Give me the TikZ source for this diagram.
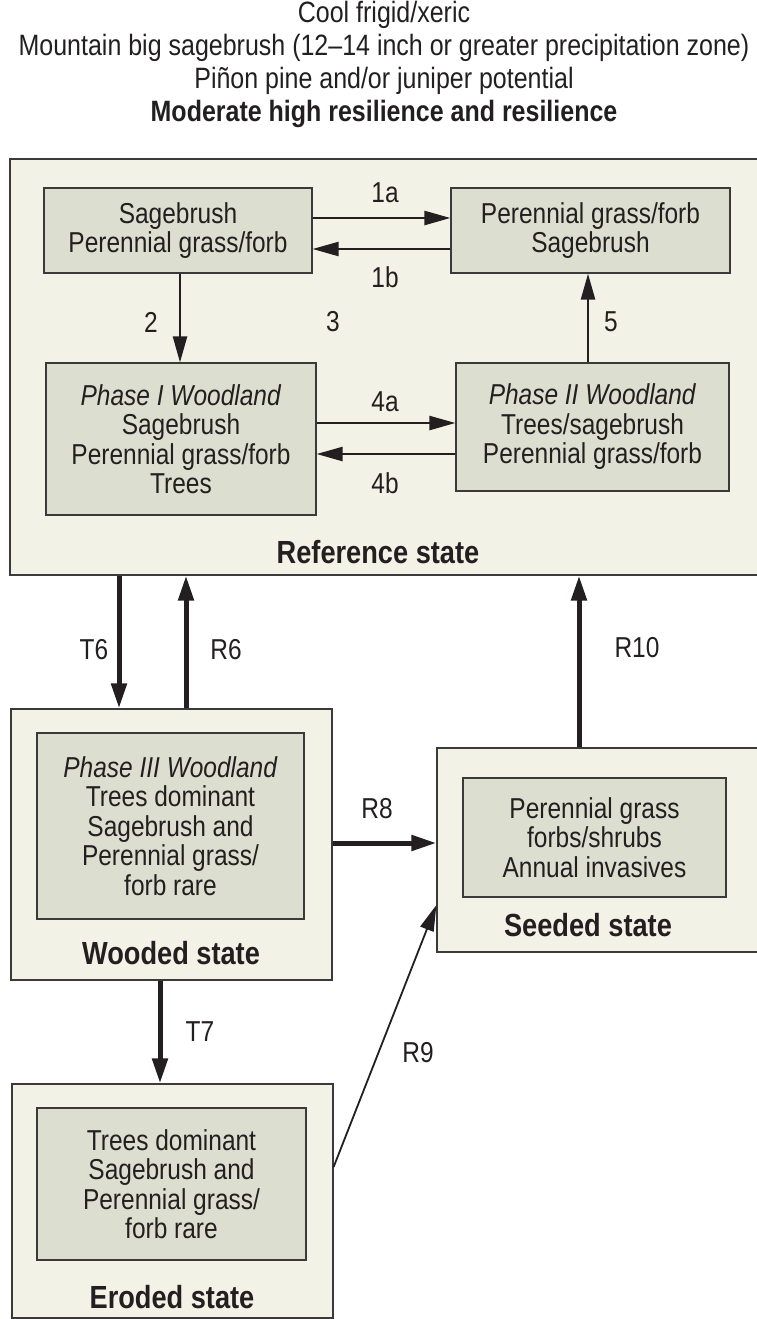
\documentclass[tikz,border=0pt]{standalone}
\usepackage{fontspec}
\setmainfont[FakeStretch=0.85]{Liberation Sans}
\usepackage{tikz}
\usetikzlibrary{arrows.meta}

\definecolor{stateFill}{HTML}{F3F2E7}
\definecolor{phaseFill}{HTML}{DCDFCF}
\definecolor{edgeGray}{HTML}{3A3A3A}
\definecolor{inkBlack}{HTML}{231F20}

\tikzset{
  statebox/.style={draw=edgeGray, line width=1.2pt, fill=stateFill, rectangle, inner sep=0pt},
  phasebox/.style={draw=edgeGray, line width=1.2pt, fill=phaseFill, rectangle, inner sep=0pt,
    align=center, text=inkBlack, font=\fontsize{28.8}{29.5}\selectfont},
  thinarrow/.style={draw=inkBlack, line width=2.4pt, -{Triangle[length=26pt,width=14pt]}},
  thickarrow/.style={draw=inkBlack, line width=5pt, -{Triangle[length=25pt,width=15pt]}},
  steplabel/.style={text=inkBlack, font=\fontsize{28.8}{29.5}\selectfont, inner sep=0pt},
  statename/.style={text=inkBlack, font=\fontsize{32}{34}\selectfont\bfseries, inner sep=0pt}
}

\begin{document}
\begin{tikzpicture}[x=1pt,y=-1pt]
				\useasboundingbox (0,0) rectangle (757,1319);
				
				\node (title) [align=center, text=inkBlack, font=\fontsize{29.4}{33}\selectfont] at (384,64)
				  {Cool frigid/xeric\\Mountain big sagebrush (12--14 inch or greater precipitation zone)\\Piñon pine and/or juniper potential\\\textbf{Moderate high resilience and resilience}};
				
				% State boxes
				\node (refstate) [statebox, minimum width=750pt, minimum height=416pt] at (385,367) {};
				\node (wooded) [statebox, minimum width=321pt, minimum height=271pt] at (171.5,844.5) {};
				\node (seeded) [statebox, minimum width=323pt, minimum height=204pt] at (598.5,850) {};
				\node (eroded) [statebox, minimum width=321pt, minimum height=234pt] at (172.5,1201) {};
				
				% Phase boxes
				\node (box1) [phasebox, minimum width=268pt, minimum height=85pt] at (178,230.5) {Sagebrush\\Perennial grass/forb};
				\node (box2) [phasebox, minimum width=279pt, minimum height=85pt] at (590.5,230.5) {Perennial grass/forb\\Sagebrush};
				\node (box3) [phasebox, minimum width=270pt, minimum height=152pt] at (181,439) {\textit{Phase I Woodland}\\Sagebrush\\Perennial grass/forb\\Trees};
				\node (box4) [phasebox, minimum width=273pt, minimum height=128pt] at (592.5,427) {\textit{Phase II Woodland}\\Trees/sagebrush\\Perennial grass/forb};
				\node (box5) [phasebox, minimum width=267pt, minimum height=186pt] at (170.5,826) {\textit{Phase III Woodland}\\Trees dominant\\Sagebrush and\\Perennial grass/\\forb rare};
				\node (box6) [phasebox, minimum width=263pt, minimum height=119pt] at (594.5,837.5) {Perennial grass\\forbs/shrubs\\Annual invasives};
				\node (box7) [phasebox, minimum width=269pt, minimum height=152pt] at (171.5,1184) {Trees dominant\\Sagebrush and\\Perennial grass/\\forb rare};
				
				% State names
				\node (refname) [statename] at (378,552) {Reference state};
				\node (woodname) [statename] at (171,953) {Wooded state};
				\node (seedname) [statename] at (588,925) {Seeded state};
				\node (erodename) [statename] at (172,1297) {Eroded state};
				
				% Labels
				\node (l1a) [steplabel] at (385,193) {1a};
				\node (l1b) [steplabel] at (385,277) {1b};
				\node (l2) [steplabel] at (151,322) {2};
				\node (l3) [steplabel] at (333,322) {3};
				\node (l5) [steplabel] at (611,322) {5};
				\node (l4a) [steplabel] at (385,402) {4a};
				\node (l4b) [steplabel] at (385,483) {4b};
				\node (lT6) [steplabel] at (94,650) {T6};
				\node (lR6) [steplabel] at (226,650) {R6};
				\node (lR10) [steplabel] at (637,648) {R10};
				\node (lR8) [steplabel] at (377,809) {R8};
				\node (lT7) [steplabel] at (200,1032) {T7};
				\node (lR9) [steplabel] at (418,1053) {R9};
				
				% Arrows
				\draw[thinarrow] ([yshift=12.5pt]box1.east) -- ([yshift=12.5pt]box1.east -| box2.west);
				\draw[thinarrow] ([yshift=-18.5pt]box2.west) -- ([yshift=-18.5pt]box2.west -| box1.east);
				\draw[thinarrow] ([xshift=2pt]box1.south) -- ([xshift=2pt]box1.south |- box3.north);
				\draw[thinarrow] ([xshift=-4.5pt]box4.north) -- ([xshift=-4.5pt]box4.north |- box2.south);
				\draw[thinarrow] ([yshift=16pt]box3.east) -- ([yshift=16pt]box3.east -| box4.west);
				\draw[thinarrow] ([yshift=-27pt]box4.west) -- ([yshift=-27pt]box4.west -| box3.east);
				\draw[thickarrow] ([xshift=-52.5pt]wooded.north |- refstate.south) -- ([xshift=-52.5pt]wooded.north);
				\draw[thickarrow] ([xshift=14.5pt]wooded.north) -- ([xshift=14.5pt]wooded.north |- refstate.south);
				\draw[thickarrow] ([xshift=-19.5pt]seeded.north) -- ([xshift=-19.5pt]seeded.north |- refstate.south);
				\draw[thickarrow] ([yshift=1.5pt]wooded.east) -- ([yshift=1.5pt]wooded.east -| seeded.west);
				\draw[thickarrow] ([xshift=-11.5pt]wooded.south) -- ([xshift=-11.5pt]wooded.south |- eroded.north);
				\draw[thinarrow, line width=1.8pt] ([yshift=34pt]eroded.east) -- ([yshift=-55pt]seeded.west);
				
			\end{tikzpicture}
\end{document}
